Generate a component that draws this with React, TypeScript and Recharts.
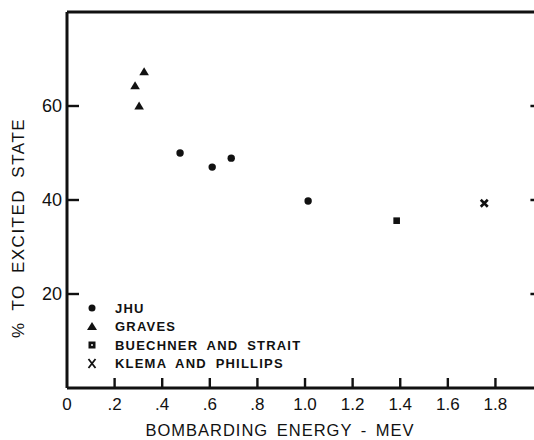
import { ReferenceLine, Scatter, ScatterChart, XAxis, YAxis } from 'recharts';

const INK = '#111';
const FONT = '"Liberation Sans", Arial, sans-serif';

// energy in MeV, share of transitions to the excited state in %
const JHU = [
  { energy: 0.475, pct: 50 },
  { energy: 0.61, pct: 47 },
  { energy: 0.69, pct: 48.9 },
  { energy: 1.013, pct: 39.8 },
];
const GRAVES = [
  { energy: 0.286, pct: 64.3 },
  { energy: 0.303, pct: 60 },
  { energy: 0.324, pct: 67.3 },
];
const BUECHNER_STRAIT = [{ energy: 1.385, pct: 35.6 }];
const KLEMA_PHILLIPS = [{ energy: 1.753, pct: 39.3 }];

const SERIES_NAMES = ['JHU', 'GRAVES', 'BUECHNER AND STRAIT', 'KLEMA AND PHILLIPS'];
const X_TICKS = [0, 0.2, 0.4, 0.6, 0.8, 1.0, 1.2, 1.4, 1.6, 1.8];
const Y_TICKS = [20, 40, 60];
const X_MAX = 1.962;
const Y_MAX = 80;

function energyLabel(v: number) {
  if (v === 0) return '0';
  if (v < 1) return v.toFixed(1).slice(1);
  return v.toFixed(1);
}

// eslint-disable-next-line @typescript-eslint/no-explicit-any
function LeftTick({ x, y, payload }: any) {
  return (
    <g>
      <rect x={x} y={y - 1.2} width={12} height={2.4} fill={INK} />
      <text x={x - 5} y={y} textAnchor="end" dominantBaseline="central" fontSize={18} fontFamily={FONT} fill={INK}>
        {payload.value}
      </text>
    </g>
  );
}

// eslint-disable-next-line @typescript-eslint/no-explicit-any
function BottomTick({ x, y, payload }: any) {
  return (
    <g>
      {payload.value !== 0 ? <rect x={x - 1.2} y={y - 10} width={2.4} height={10} fill={INK} /> : null}
      <text x={x} y={y + 22} textAnchor="middle" fontSize={17} fontFamily={FONT} fill={INK}>
        {energyLabel(payload.value)}
      </text>
    </g>
  );
}

// eslint-disable-next-line @typescript-eslint/no-explicit-any
function TopTick({ x, y, payload }: any) {
  if (payload.value === 0) return <g />;
  return <rect x={x - 1.2} y={y} width={2.4} height={8} fill={INK} />;
}

function XTitle() {
  return (
    <text x={280} y={436} textAnchor="middle" fontSize={16.5} fontFamily={FONT} letterSpacing={1} wordSpacing={3} fill={INK}>
      BOMBARDING ENERGY - MEV
    </text>
  );
}

function YTitle() {
  return (
    <text
      x={18.5}
      y={228}
      transform="rotate(-90 18.5 228)"
      textAnchor="middle"
      dominantBaseline="central"
      fontSize={17}
      fontFamily={FONT}
      letterSpacing={1.5}
      wordSpacing={5}
      fill={INK}
    >
      % TO EXCITED STATE
    </text>
  );
}

// eslint-disable-next-line @typescript-eslint/no-explicit-any
const dotShape = ({ cx, cy }: any) => <circle cx={cx} cy={cy} r={3.7} fill={INK} />;
// eslint-disable-next-line @typescript-eslint/no-explicit-any
const triangleShape = ({ cx, cy }: any) => (
  <path d={`M${cx},${cy - 4.5} L${cx + 4.8},${cy + 3.5} L${cx - 4.8},${cy + 3.5} Z`} fill={INK} />
);
// eslint-disable-next-line @typescript-eslint/no-explicit-any
const squareShape = ({ cx, cy }: any) => <rect x={cx - 3.3} y={cy - 3.3} width={6.6} height={6.6} fill={INK} />;
// eslint-disable-next-line @typescript-eslint/no-explicit-any
const crossShape = ({ cx, cy }: any) => (
  <path d={`M${cx - 3.5},${cy - 3.5} L${cx + 3.5},${cy + 3.5} M${cx + 3.5},${cy - 3.5} L${cx - 3.5},${cy + 3.5}`} stroke={INK} strokeWidth={2.6} />
);

function legendSymbol(name: string, cx: number, cy: number) {
  if (name === 'JHU') return <circle cx={cx} cy={cy} r={3.5} fill={INK} />;
  if (name === 'GRAVES') return <path d={`M${cx},${cy - 4.5} L${cx + 5},${cy + 3.5} L${cx - 5},${cy + 3.5} Z`} fill={INK} />;
  if (name === 'BUECHNER AND STRAIT')
    return (
      <g>
        <rect x={cx - 3.5} y={cy - 3.5} width={7} height={7} fill={INK} />
        <rect x={cx - 1} y={cy - 1} width={2} height={2} fill="#bbb" />
      </g>
    );
  return (
    <path d={`M${cx - 3.5},${cy - 4.5} L${cx + 3.5},${cy + 4.5} M${cx + 3.5},${cy - 4.5} L${cx - 3.5},${cy + 4.5}`} stroke={INK} strokeWidth={1.8} />
  );
}

function LegendBox() {
  return (
    <div style={{ position: 'absolute', left: 84, top: 299, width: 240, height: 76 }}>
      <svg width={240} height={76} style={{ display: 'block' }}>
        {SERIES_NAMES.map((name, i) => {
          const cy = 9 + i * 18.5;
          return (
            <g key={name}>
              {legendSymbol(name, 8, cy)}
              <text
                x={31}
                y={cy}
                dominantBaseline="central"
                fontSize={13}
                fontWeight="bold"
                fontFamily={FONT}
                letterSpacing={1.2}
                wordSpacing={4}
                fill={INK}
              >
                {name}
              </text>
            </g>
          );
        })}
      </svg>
    </div>
  );
}

export default function App() {
  return (
    <div style={{ position: 'absolute', left: 0, top: 0, width: 534, height: 440, background: '#fff' }}>
      <ScatterChart width={534} height={440} margin={{ top: 11, right: 0, bottom: 0, left: 0 }}>
        <XAxis
          xAxisId="bottom"
          type="number"
          dataKey="energy"
          domain={[0, X_MAX]}
          ticks={X_TICKS}
          height={52}
          tickSize={0}
          tickMargin={0}
          stroke={INK}
          strokeWidth={3}
          tick={<BottomTick />}
          label={{ content: <XTitle /> }}
        />
        <XAxis
          xAxisId="top"
          orientation="top"
          type="number"
          dataKey="energy"
          domain={[0, X_MAX]}
          ticks={X_TICKS}
          height={1}
          tickSize={0}
          tickMargin={0}
          stroke={INK}
          strokeWidth={3}
          tick={<TopTick />}
        />
        <YAxis
          yAxisId="left"
          type="number"
          dataKey="pct"
          domain={[0, Y_MAX]}
          ticks={Y_TICKS}
          width={67}
          tickSize={0}
          tickMargin={0}
          stroke={INK}
          strokeWidth={3}
          tick={<LeftTick />}
          label={{ content: <YTitle /> }}
        />
        {Y_TICKS.map((v) => (
          <ReferenceLine
            key={`r${v}`}
            xAxisId="bottom"
            yAxisId="left"
            segment={[{ x: X_MAX - 0.015, y: v }, { x: X_MAX, y: v }]}
            stroke={INK}
            strokeWidth={2.5}
            ifOverflow="visible"
          />
        ))}
        <Scatter name="JHU" data={JHU} xAxisId="bottom" yAxisId="left" shape={dotShape} isAnimationActive={false} />
        <Scatter name="GRAVES" data={GRAVES} xAxisId="bottom" yAxisId="left" shape={triangleShape} isAnimationActive={false} />
        <Scatter
          name="BUECHNER AND STRAIT"
          data={BUECHNER_STRAIT}
          xAxisId="bottom"
          yAxisId="left"
          shape={squareShape}
          isAnimationActive={false}
        />
        <Scatter
          name="KLEMA AND PHILLIPS"
          data={KLEMA_PHILLIPS}
          xAxisId="bottom"
          yAxisId="left"
          shape={crossShape}
          isAnimationActive={false}
        />
      </ScatterChart>
      <LegendBox />
    </div>
  );
}
